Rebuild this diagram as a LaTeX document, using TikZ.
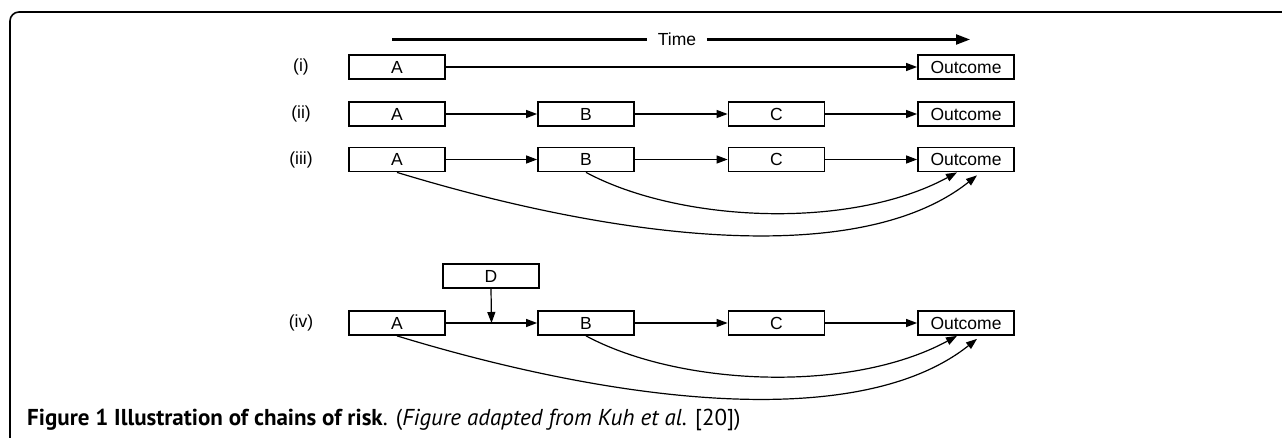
\documentclass[tikz,border=0pt]{standalone}
\usepackage{fontspec}
\setmainfont{Liberation Sans}
\newfontfamily\capfont{PT Sans}
\usetikzlibrary{arrows.meta,calc}
\begin{document}
\begin{tikzpicture}[x=1pt,y=-1pt,
  box/.style={draw,line width=1.8pt,minimum width=96pt,minimum height=24pt,inner sep=0pt,font=\fontsize{17.5}{18}\selectfont},
  lbl/.style={font=\fontsize{17.5}{18}\selectfont},
  conn/.style={line width=1.2pt,-{Triangle[length=11pt,width=8pt]}},
  timeline/.style={line width=2.2pt},
]
\useasboundingbox (0,0) rectangle (1282,438);
\draw[line width=1.6pt,rounded corners=9pt] (1295,12) -- (10,12) -- (10,450);

% time axis
\coordinate (t0) at (392,39.5);
\node[lbl,inner xsep=10.5pt,inner ysep=0pt] (time) at (677,39.5) {Time};
\coordinate (t1) at (970,39.5);
\draw[timeline] (t0) -- (time.west);
\draw[timeline,-{Triangle[length=14pt,width=10pt]}] (time.east) -- (t1);

% labels
\node[lbl] (l1) at (301,67) {(i)};
\node[lbl] (l2) at (301,114) {(ii)};
\node[lbl] (l3) at (301,159.5) {(iii)};
\node[lbl] (l4) at (301,323) {(iv)};

% row i
\node[box] (a1) at (397,67) {A};
\node[box] (o1) at (966,67) {Outcome};
\draw[conn] (a1) -- (o1);

% row ii
\node[box] (a2) at (397,114) {A};
\node[box] (b2) at (586,114) {B};
\node[box] (c2) at (776.5,114) {C};
\node[box] (o2) at (966,114) {Outcome};
\draw[conn] (a2) -- (b2);
\draw[conn] (b2) -- (c2);
\draw[conn] (c2) -- (o2);

% row iii
\node[box] (a3) at (397,159.5) {A};
\node[box] (b3) at (586,159.5) {B};
\node[box] (c3) at (776.5,159.5) {C};
\node[box] (o3) at (966,159.5) {Outcome};
\draw[conn] (a3) -- (b3);
\draw[conn] (b3) -- (c3);
\draw[conn] (c3) -- (o3);
\draw[conn] (a3.south) .. controls +(223,68) and +(-117,93) .. ([xshift=11pt,yshift=-3pt]o3.south);
\draw[conn] (b3.south) .. controls +(93,50) and +(-107,58) .. ([xshift=-9pt]o3.south);

% row iv
\node[box] (d) at (491,276) {D};
\node[box] (a4) at (397,323) {A};
\node[box] (b4) at (586,323) {B};
\node[box] (c4) at (776.5,323) {C};
\node[box] (o4) at (966,323) {Outcome};
\coordinate (dm) at ($(a4.east)!0.5!(b4.west)$);
\draw[conn] (a4) -- (b4);
\draw[conn] (b4) -- (c4);
\draw[conn] (c4) -- (o4);
\draw[conn] (d.south) -- (dm);
\draw[conn] (a4.south) .. controls +(223,68) and +(-117,93) .. ([xshift=11pt,yshift=-3pt]o4.south);
\draw[conn] (b4.south) .. controls +(93,50) and +(-107,58) .. ([xshift=-9pt]o4.south);

% caption
\node[anchor=base west,inner sep=0pt,font=\capfont\fontsize{23}{26}\selectfont] (cap) at (27,425)
  {\textbf{Figure 1 Illustration of chains of risk}. (\textit{Figure adapted from Kuh et al.} [20])};
\end{tikzpicture}
\end{document}
